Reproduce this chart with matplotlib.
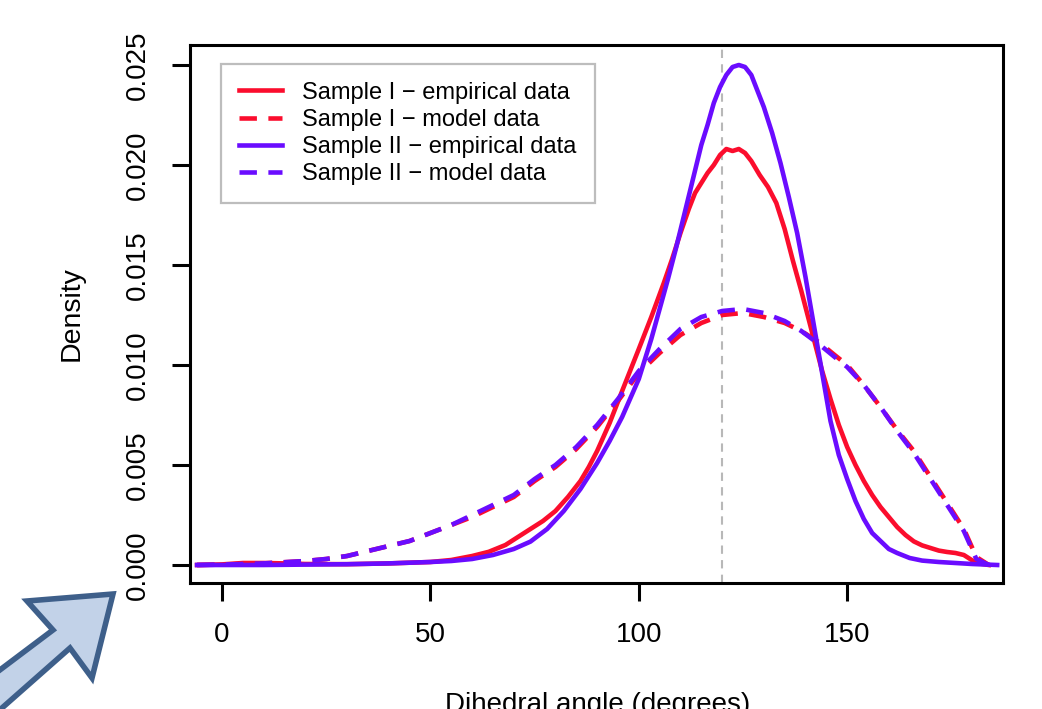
import numpy as np
import matplotlib
matplotlib.use("Agg")
import matplotlib.pyplot as plt
from matplotlib.patches import Polygon

plt.rcParams['font.family'] = ['Liberation Sans', 'DejaVu Sans']

# Sample I - empirical density
s1_emp_x = [-6, 0, 5, 10, 15, 20, 30, 40, 50, 55, 60, 64, 68, 71, 74, 77, 80, 83, 86, 88,
            90, 93, 96, 100, 103, 106, 108, 110, 112, 113.5, 115, 116.5, 118, 119.5, 121,
            122.5, 124, 125.5, 127, 129, 131, 133, 135, 137, 139, 140.5, 142, 144, 146,
            148, 150, 152, 154, 156, 158, 160, 162, 164, 166, 168, 170, 172, 174, 176,
            178, 179.5, 181, 184]
s1_emp_y = [0, 0.00003, 0.0001, 0.0001, 0.00008, 0.00005, 0.00004, 0.00008, 0.00015,
            0.00025, 0.00045, 0.00066, 0.001, 0.0014, 0.0018, 0.0022, 0.0027, 0.0034,
            0.0042, 0.0049, 0.0057, 0.0071, 0.0087, 0.0108, 0.0124, 0.0141, 0.0153,
            0.0166, 0.0178, 0.0186, 0.0191, 0.0196, 0.0200, 0.0205, 0.0208, 0.0207,
            0.0208, 0.0206, 0.0202, 0.0195, 0.0189, 0.0181, 0.0168, 0.0152, 0.0137,
            0.0125, 0.0113, 0.0097, 0.0083, 0.0070, 0.0059, 0.0050, 0.0042, 0.0035,
            0.0029, 0.0024, 0.0019, 0.0015, 0.00118, 0.00098, 0.00085, 0.00072, 0.00065,
            0.0006, 0.0005, 0.0003, 0.0001, 0.0]

# Sample II - empirical density
s2_emp_x = [-6, 0, 10, 20, 30, 40, 50, 55, 60, 65, 70, 74, 78, 82, 86, 90, 93, 96, 100,
            103, 105, 107, 109, 111, 113, 115, 116.5, 118, 119.5, 121, 122.5, 124, 125.5,
            127, 128.5, 130, 132, 134, 136, 138, 140, 141.5, 143, 144.5, 146, 148, 150,
            152, 154, 156, 158, 160, 162, 165, 168, 172, 180, 186]
s2_emp_y = [0, 0, 0, 0.00002, 0.00004, 0.00008, 0.00015, 0.0002, 0.0003, 0.0005, 0.0008,
            0.00117, 0.0018, 0.0027, 0.0038, 0.0051, 0.0062, 0.0074, 0.0093, 0.0113,
            0.0128, 0.0143, 0.0159, 0.0176, 0.0193, 0.0210, 0.0220, 0.0231, 0.0239,
            0.0245, 0.0249, 0.0250, 0.0249, 0.0245, 0.0237, 0.0229, 0.0216, 0.0201,
            0.0184, 0.0166, 0.0144, 0.0126, 0.0108, 0.0090, 0.0072, 0.0055, 0.0043,
            0.0032, 0.0023, 0.0016, 0.0012, 0.0008, 0.0006, 0.00035, 0.00022, 0.00015,
            0.00005, 0.0]

# model densities (same grid for both samples)
model_x = [-6, 0, 10, 20, 25, 30, 38, 45, 50, 55, 60, 65, 70, 75, 80, 85, 90, 95, 100,
           105, 110, 115, 120, 125, 130, 135, 139, 143.5, 147, 150, 154, 158, 162, 166,
           170, 174, 178, 181, 184]
s1_mod_y = [0, 0.00002, 0.00008, 0.0002, 0.0003, 0.00045, 0.00085, 0.0012, 0.0016, 0.002,
            0.0024, 0.0029, 0.0034, 0.0042, 0.0049, 0.0058, 0.0069, 0.0082, 0.0096,
            0.0106, 0.0115, 0.0121, 0.0125, 0.0126, 0.0124, 0.0121, 0.0117, 0.0111,
            0.0105, 0.0100, 0.0090, 0.0079, 0.00675, 0.0057, 0.0044, 0.0031, 0.0018,
            0.0004, 0.0]
s2_mod_y = [0, 0.00002, 0.00008, 0.0002, 0.0003, 0.00045, 0.00085, 0.0012, 0.0016, 0.002,
            0.0025, 0.003, 0.0035, 0.0043, 0.005, 0.0059, 0.0070, 0.0083, 0.0097, 0.0108,
            0.0118, 0.0124, 0.0127, 0.0128, 0.0126, 0.0122, 0.0117, 0.0110, 0.0104,
            0.0099, 0.0090, 0.0079, 0.0067, 0.0056, 0.0043, 0.0030, 0.0017, 0.0003, 0.0]

ref_angle = 120
x_ticks = [0, 50, 100, 150]
y_ticks = [0.000, 0.005, 0.010, 0.015, 0.020, 0.025]
labels = ["Sample I \u2212 empirical data", "Sample I \u2212 model data",
          "Sample II \u2212 empirical data", "Sample II \u2212 model data"]

red = '#fb0d2d'
purple = '#6a0cff'
lw = 3.3
dash = (0, (3.8, 2.5))

W, H = 1042, 709
fig = plt.figure(figsize=(W / 100, H / 100), dpi=100)
ax = fig.add_axes([190 / W, 1 - 583 / H, (1003 - 190) / W, (583 - 45) / H])

ax.axvline(ref_angle, color='#b8b8b8', lw=1.5, ls=(0, (4, 3)), zorder=1)
ax.plot(s1_emp_x, s1_emp_y, color=red, lw=lw, label=labels[0], zorder=3,
        solid_joinstyle='round')
ax.plot(model_x, s1_mod_y, color=red, lw=lw, ls=dash, label=labels[1], zorder=3)
ax.plot(s2_emp_x, s2_emp_y, color=purple, lw=lw, label=labels[2], zorder=3,
        solid_joinstyle='round')
ax.plot(model_x, s2_mod_y, color=purple, lw=lw, ls=dash, label=labels[3], zorder=3)

ax.set_xlim(-7.7, 187.4)
ax.set_ylim(-0.0009, 0.026)
ax.set_xticks(x_ticks)
ax.set_xticklabels([str(t) for t in x_ticks])
ax.set_yticks(y_ticks)
ax.set_yticklabels([f"{t:.3f}" for t in y_ticks])

for sp in ax.spines.values():
    sp.set_linewidth(2.2)
ax.tick_params(axis='both', length=13, width=2.2, labelsize=20, pad=15)
ax.tick_params(axis='y', labelrotation=90)
for lbl in ax.get_yticklabels():
    lbl.set_va('center')

leg = ax.legend(loc='upper left', bbox_to_anchor=(31 / 813, (583 - 64) / 538),
                borderaxespad=0, fontsize=17, frameon=True, fancybox=False,
                framealpha=1, edgecolor='#bdbdbd', handlelength=1.85,
                handletextpad=0.85, labelspacing=0.22, borderpad=0.75)
leg.get_frame().set_linewidth(1.6)

fig.text(72 / W, 1 - 314 / H, "Density", rotation=90, ha='center', va='center',
         fontsize=20.5)
fig.text(598 / W, 1 - 692 / H, "Dihedral angle (degrees)", ha='center', va='top',
         fontsize=20)

# big arrow in the lower left corner
arrow_px = [(113, 594), (27, 601), (53, 630), (-40, 700), (-40, 745), (70, 648), (92, 678)]
arrow = Polygon([(x / W, 1 - y / H) for x, y in arrow_px], closed=True,
                transform=fig.transFigure, facecolor='#c2d2e8', edgecolor='#3e5f8a',
                linewidth=4, joinstyle='miter')
fig.patches.append(arrow)

fig.savefig("out.png", dpi=100)
